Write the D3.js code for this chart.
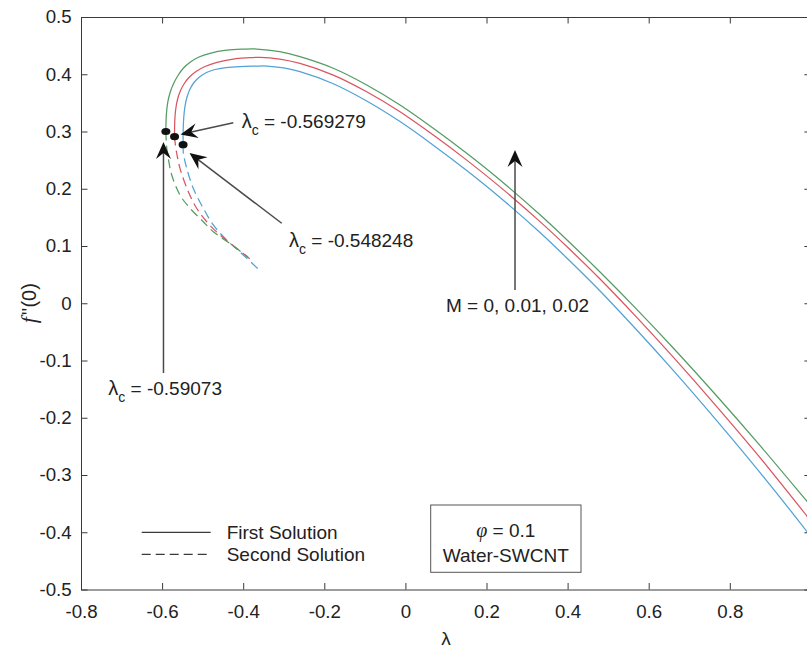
<!DOCTYPE html>
<html>
<head>
<meta charset="utf-8">
<script src="https://cdn.jsdelivr.net/npm/d3@7/dist/d3.min.js"></script>
<style>
  html, body { margin: 0; padding: 0; background: #fff; }
  svg { display: block; }
  text { font-family: "Liberation Sans", Arial, Helvetica, sans-serif; fill: #222; }
</style>
</head>
<body>
<svg id="chart" width="807" height="649"></svg>
<script>
// ---- axis ticks ----
const xTicks = [-0.8, -0.6, -0.4, -0.2, 0, 0.2, 0.4, 0.6, 0.8, 1];
// the label for 1 sits past the right edge of the 807 px canvas
const xTickLabels = ["-0.8", "-0.6", "-0.4", "-0.2", "0", "0.2", "0.4", "0.6", "0.8", ""];
const yTicks = [-0.5, -0.4, -0.3, -0.2, -0.1, 0, 0.1, 0.2, 0.3, 0.4, 0.5];
const yTickLabels = ["-0.5", "-0.4", "-0.3", "-0.2", "-0.1", "0", "0.1", "0.2", "0.3", "0.4", "0.5"];

// ---- magnetic parameter values and their critical points ----
const mValues = [0, 0.01, 0.02];
const criticalLambda = [-0.548248, -0.569279, -0.59073];
const criticalF = [0.277, 0.291, 0.300];

// ---- first (upper) solution branches: [lambda, f''(0)] ----
const firstM0 = [
  [-0.548248, 0.277], [-0.5480, 0.3026], [-0.5465, 0.3253], [-0.5435, 0.3445], [-0.5385, 0.3603],
  [-0.5311, 0.3742], [-0.5213, 0.3856], [-0.5078, 0.3952], [-0.4905, 0.4031], [-0.4696, 0.4083],
  [-0.4424, 0.4116], [-0.4079, 0.4135], [-0.3709, 0.4142], [-0.342, 0.4144], [-0.30, 0.411],
  [-0.26, 0.4045], [-0.1778, 0.3834], [-0.0954, 0.3532], [-0.0133, 0.3173], [0.0688, 0.2761],
  [0.1512, 0.2319], [0.2333, 0.1848], [0.332, 0.1236], [0.40, 0.0777], [0.48, 0.0215],
  [0.57, -0.0463], [0.66, -0.1168], [0.7635, -0.2015], [0.87, -0.2918], [0.99, -0.3986],
  [1.0, -0.408]
];
const firstM001 = [
  [-0.569279, 0.291], [-0.5689, 0.3166], [-0.5667, 0.3376], [-0.5620, 0.3559], [-0.5551, 0.3707],
  [-0.5460, 0.3830], [-0.5337, 0.3943], [-0.5164, 0.4048], [-0.4942, 0.4135], [-0.4646, 0.4209],
  [-0.4244, 0.4266], [-0.3906, 0.4287], [-0.3586, 0.4296], [-0.31, 0.4265], [-0.26, 0.419],
  [-0.1778, 0.3986], [-0.0954, 0.3694], [-0.0133, 0.3344], [0.0688, 0.2937], [0.1512, 0.2500],
  [0.2333, 0.2033], [0.332, 0.1426], [0.40, 0.0977], [0.48, 0.0423], [0.57, -0.0243],
  [0.66, -0.0938], [0.7635, -0.177], [0.87, -0.2658], [0.99, -0.3716], [1.0, -0.3805]
];
const firstM002 = [
  [-0.59073, 0.300], [-0.5896, 0.3288], [-0.5860, 0.3515], [-0.5798, 0.3690], [-0.5716, 0.3838],
  [-0.5608, 0.3978], [-0.5472, 0.4109], [-0.5300, 0.4214], [-0.5090, 0.4301], [-0.4819, 0.4366],
  [-0.4407, 0.4420], [-0.4005, 0.4438], [-0.3667, 0.4441], [-0.31, 0.4395], [-0.26, 0.4307],
  [-0.1778, 0.4104], [-0.0954, 0.3812], [-0.0133, 0.3463], [0.0688, 0.3056], [0.1512, 0.2619],
  [0.2333, 0.2153], [0.332, 0.1546], [0.40, 0.1097], [0.48, 0.0545], [0.57, -0.0103],
  [0.66, -0.0778], [0.7635, -0.1585], [0.87, -0.2448], [0.99, -0.3456], [1.0, -0.354]
];

// ---- second (lower) solution branches: [lambda, f''(0)] ----
const secondM0 = [
  [-0.548248, 0.277], [-0.5475, 0.262], [-0.5393, 0.2357], [-0.5231, 0.2008], [-0.4984, 0.1659],
  [-0.4737, 0.1367], [-0.4407, 0.1105], [-0.3998, 0.0843], [-0.3628, 0.0598]
];
const secondM001 = [
  [-0.569279, 0.291], [-0.5682, 0.2822], [-0.5640, 0.262], [-0.5559, 0.2357], [-0.5354, 0.1948],
  [-0.5147, 0.1659], [-0.4900, 0.1424], [-0.4573, 0.1192], [-0.4160, 0.0960], [-0.3751, 0.0726]
];
const secondM002 = [
  [-0.59073, 0.300], [-0.5887, 0.272], [-0.5840, 0.250], [-0.5763, 0.224], [-0.5559, 0.1891],
  [-0.5312, 0.1659], [-0.4984, 0.1424], [-0.4737, 0.1250], [-0.4329, 0.1044], [-0.3882, 0.0808]
];

const seriesColors = ["#52a2d6", "#da5560", "#539d62"];
const firstBranches = [firstM0, firstM001, firstM002];
const secondBranches = [secondM0, secondM001, secondM002];

// ---- layout ----
const W = 807, H = 649;
const svg = d3.select("#chart");
const x = d3.scaleLinear().domain([-0.8, 1]).range([81, 810.9]);
const y = d3.scaleLinear().domain([-0.5, 0.5]).range([589.5, 17]);
const TICK = 6.5;
const AXIS_COLOR = "#3a3a3a";

svg.append("rect").attr("width", W).attr("height", H).attr("fill", "#fff");

svg.append("defs").append("clipPath").attr("id", "plotClip")
  .append("rect")
  .attr("x", x(-0.8)).attr("y", y(0.5))
  .attr("width", x(1) - x(-0.8)).attr("height", y(-0.5) - y(0.5));

// ---- curves ----
const line = d3.line()
  .x(d => x(d[0]))
  .y(d => y(d[1]))
  .curve(d3.curveCatmullRom.alpha(0.5));

const plot = svg.append("g").attr("clip-path", "url(#plotClip)");

secondBranches.forEach((pts, i) => {
  plot.append("path")
    .attr("d", line(pts))
    .attr("fill", "none")
    .attr("stroke", seriesColors[i])
    .attr("stroke-width", 1.25)
    .attr("stroke-dasharray", "9,5");
});
firstBranches.forEach((pts, i) => {
  plot.append("path")
    .attr("d", line(pts))
    .attr("fill", "none")
    .attr("stroke", seriesColors[i])
    .attr("stroke-width", 1.25);
});

// critical point markers
plot.selectAll("ellipse.crit")
  .data(criticalLambda.map((l, i) => [l, criticalF[i]]))
  .join("ellipse")
  .attr("class", "crit")
  .attr("cx", d => x(d[0]))
  .attr("cy", d => y(d[1]))
  .attr("rx", 4.5).attr("ry", 3.6)
  .attr("fill", "#111");

// ---- axes (inward ticks on all four sides) ----
function styleAxis(g) {
  g.selectAll(".domain").attr("stroke", AXIS_COLOR).attr("stroke-width", 1);
  g.selectAll(".tick line").attr("stroke", AXIS_COLOR).attr("stroke-width", 1);
  g.selectAll(".tick text")
    .attr("font-family", "'Liberation Sans', Arial, sans-serif")
    .attr("font-size", 18.7)
    .attr("fill", "#262626");
}

svg.append("g")
  .attr("transform", `translate(0,${y(-0.5)})`)
  .call(d3.axisBottom(x).tickValues(xTicks)
    .tickFormat((d, i) => xTickLabels[i])
    .tickSizeInner(-TICK).tickSizeOuter(0).tickPadding(15))
  .call(styleAxis);

svg.append("g")
  .attr("transform", `translate(0,${y(0.5)})`)
  .call(d3.axisTop(x).tickValues(xTicks).tickFormat("")
    .tickSizeInner(-TICK).tickSizeOuter(0))
  .call(styleAxis);

svg.append("g")
  .attr("transform", `translate(${x(-0.8)},0)`)
  .call(d3.axisLeft(y).tickValues(yTicks)
    .tickFormat((d, i) => yTickLabels[i])
    .tickSizeInner(-TICK).tickSizeOuter(0).tickPadding(9.3))
  .call(styleAxis);

svg.append("g")
  .attr("transform", `translate(${x(1)},0)`)
  .call(d3.axisRight(y).tickValues(yTicks).tickFormat("")
    .tickSizeInner(-TICK).tickSizeOuter(0))
  .call(styleAxis);

// axis titles
svg.append("text")
  .attr("x", (x(-0.8) + x(1)) / 2).attr("y", 645)
  .attr("text-anchor", "middle")
  .attr("font-family", "'Liberation Serif', 'Times New Roman', serif")
  .attr("font-size", 19)
  .text("λ");

const yTitle = svg.append("text")
  .attr("transform", `translate(36,${(y(0.5) + y(-0.5)) / 2}) rotate(-90)`)
  .attr("text-anchor", "middle")
  .attr("font-size", 20);
yTitle.append("tspan")
  .attr("font-family", "'Liberation Serif', 'Times New Roman', serif")
  .attr("font-style", "italic")
  .attr("font-size", 22)
  .text("f");
yTitle.append("tspan").attr("dx", 2).text("''(0)");

// ---- annotations: arrows with swept-back heads ----
// each arrow: tail [lambda, f], tip [lambda, f]
const arrowTails = [[-0.4244, 0.3154], [-0.3051, 0.1397], [-0.5966, -0.1218], [0.2703, 0.0231]];
const arrowTips  = [[-0.5546, 0.2948], [-0.5324, 0.2624], [-0.5966, 0.2817], [0.2703, 0.2677]];

arrowTails.forEach((t, i) => {
  const x1 = x(t[0]), y1 = y(t[1]);
  const x2 = x(arrowTips[i][0]), y2 = y(arrowTips[i][1]);
  const ang = Math.atan2(y2 - y1, x2 - x1) * 180 / Math.PI;
  const len = Math.hypot(x2 - x1, y2 - y1);
  const g = svg.append("g").attr("transform", `translate(${x1},${y1}) rotate(${ang})`);
  g.append("line")
    .attr("x1", 0).attr("y1", 0).attr("x2", len - 10).attr("y2", 0)
    .attr("stroke", "#4a4a4a").attr("stroke-width", 1.5);
  g.append("path")
    .attr("d", `M${len},0 L${len - 17},-7.5 L${len - 11},0 L${len - 17},7.5 Z`)
    .attr("fill", "#111");
});

// annotation texts with subscripted critical values
const labelPos = [[-0.4037, 0.3183], [-0.2870, 0.1105], [-0.7327, -0.1480]];
const labelValues = ["-0.569279", "-0.548248", "-0.59073"];
labelPos.forEach((p, i) => {
  const t = svg.append("text")
    .attr("x", x(p[0])).attr("y", y(p[1]))
    .attr("dy", "0.35em")
    .attr("font-size", 19);
  t.append("tspan").attr("font-size", 20).text("λ");
  t.append("tspan").attr("font-size", 14).attr("dy", 7).text("c");
  t.append("tspan").attr("dy", -7).text(" = " + labelValues[i]);
});

svg.append("text")
  .attr("x", 446).attr("y", y(-0.0031))
  .attr("dy", "0.35em")
  .attr("font-size", 19)
  .text("M = " + mValues.join(", "));

// ---- legend ----
const legendItems = ["First Solution", "Second Solution"];
const legendDash = [null, "9,5"];
legendItems.forEach((name, i) => {
  const ly = 532.3 + i * 22;
  svg.append("line")
    .attr("x1", 141.7).attr("x2", 210.7).attr("y1", ly).attr("y2", ly)
    .attr("stroke", "#3a3a3a").attr("stroke-width", 1.2)
    .attr("stroke-dasharray", legendDash[i]);
  svg.append("text")
    .attr("x", 226.7).attr("y", ly).attr("dy", "0.35em")
    .attr("font-size", 19)
    .text(name);
});

// ---- parameter box ----
svg.append("rect")
  .attr("x", 430.7).attr("y", 505).attr("width", 150.3).attr("height", 67.3)
  .attr("fill", "#fff").attr("stroke", "#555").attr("stroke-width", 1);
const phiText = svg.append("text")
  .attr("x", 505.8).attr("y", 530).attr("dy", "0.35em")
  .attr("text-anchor", "middle").attr("font-size", 19);
phiText.append("tspan")
  .attr("font-family", "'Liberation Serif', 'Times New Roman', serif")
  .attr("font-style", "italic")
  .attr("font-size", 20)
  .text("φ");
phiText.append("tspan").text(" = 0.1");
svg.append("text")
  .attr("x", 505.8).attr("y", 555.7).attr("dy", "0.35em")
  .attr("text-anchor", "middle").attr("font-size", 19)
  .text("Water-SWCNT");
</script>
</body>
</html>
